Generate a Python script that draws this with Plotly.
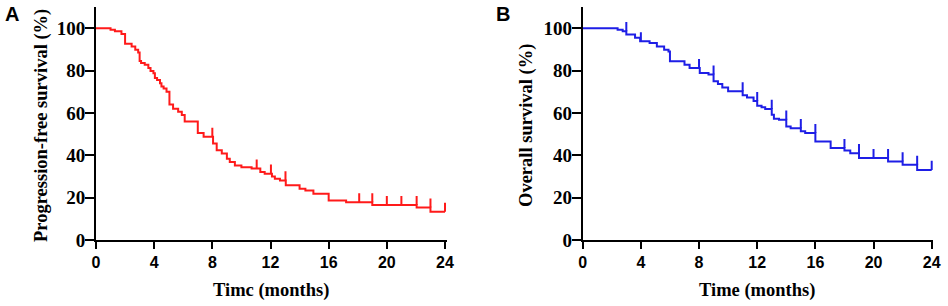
import plotly.graph_objects as go

# ---------------- data ----------------
pfs_time = [0, 1.0, 1.3, 1.75, 2.0, 2.45, 2.7, 2.9, 3.0, 3.1, 3.35, 3.6, 3.75, 3.95, 4.05, 4.2,
            4.4, 4.5, 4.65, 4.85, 5.05, 5.3, 5.65, 5.9, 6.1, 7.0, 7.4, 8.05, 8.3, 8.65, 9.0, 9.2,
            9.55, 10.0, 10.7, 11.3, 11.6, 12.1, 12.3, 12.65, 13.05, 14.0, 14.4, 14.95, 16.0,
            17.2, 19.0, 22.05, 23.0]
pfs_surv = [100, 99.3, 98.5, 97.3, 92.6, 91.4, 89.8, 88.5, 84.5, 83.6, 82.7, 81.2, 79.8, 78.7,
            76.5, 75.5, 74, 72.5, 71.5, 70, 64, 62, 60.5, 59, 56, 50.5, 48.7, 45.5, 42.4, 40.8,
            38.4, 36.8, 35.2, 34.4, 33.7, 32.1, 31.3, 30, 28.9, 28.1, 25.8, 24.2, 23.4, 21.8,
            18.6, 17.8, 16.5, 15.3, 13.3]
pfs_censor = [8.0, 11.05, 12.03, 13.03, 18.1, 19.0, 20.0, 21.0, 22.05, 23.0, 24.0]

os_time = [0, 2.4, 2.75, 3.0, 3.6, 3.95, 4.6, 5.1, 5.6, 5.9, 6.0, 7.0, 7.35, 8.05, 8.65, 9.0,
           9.3, 9.6, 10.0, 11.0, 11.3, 11.75, 12.0, 12.3, 12.55, 13.0, 13.15, 13.5, 14.0, 14.3,
           15.0, 15.3, 16.0, 17.05, 18.0, 18.4, 19.0, 21.0, 22.0, 23.0]
os_surv = [100, 99.3, 98.6, 97, 95.5, 93.8, 93, 91.4, 89.8, 89, 84.4, 82.7, 81.2, 78.9, 78.1,
           75, 73.6, 72, 70.2, 68.3, 67.3, 65.6, 63.4, 62.7, 61.9, 59.1, 57.3, 56.8, 53.6, 52.8,
           51.3, 50.5, 46.5, 43.4, 42.3, 41, 38.7, 37.1, 35.5, 33.1]
os_censor = [3.0, 4.0, 8.0, 9.0, 11.0, 12.0, 13.0, 14.0, 15.0, 16.0, 18.0, 19.0, 20.0, 21.0,
             22.0, 23.0, 24.0]

x_ticks = [0, 4, 8, 12, 16, 20, 24]
y_ticks = [0, 20, 40, 60, 80, 100]
x_end = 24

# ---------------- helpers ----------------
def level_at(times, surv, t):
    val = surv[0]
    for ti, si in zip(times, surv):
        if ti < t:
            val = si
    return val

def censor_segments(times, surv, censor, tick_len=4.3):
    xs, ys = [], []
    for c in censor:
        v = level_at(times, surv, c)
        xs += [c, c, None]
        ys += [v, v + tick_len, None]
    return xs, ys

RED = "#ff1a1a"
BLUE = "#1e1ee6"

fig = go.Figure()

for times, surv, cens, col, xa, ya in [
    (pfs_time, pfs_surv, pfs_censor, RED, "x", "y"),
    (os_time, os_surv, os_censor, BLUE, "x2", "y2"),
]:
    fig.add_trace(go.Scatter(
        x=times + [x_end], y=surv + [surv[-1]], mode="lines",
        line=dict(color=col, width=2, shape="hv"),
        xaxis=xa, yaxis=ya, hoverinfo="skip"))
    cx, cy = censor_segments(times, surv, cens)
    fig.add_trace(go.Scatter(
        x=cx, y=cy, mode="lines", line=dict(color=col, width=2),
        xaxis=xa, yaxis=ya, hoverinfo="skip"))

W, H = 948, 306
px_per_month = (445 - 96) / 24
xr = [0, 24.12]

def xdom(left):
    return [left / W, (left + px_per_month * xr[1]) / W]

ydom = [1 - 240 / H, 1 - 7 / H]

serif = "Times New Roman, Liberation Serif, serif"
sans = "Arial, Liberation Sans, sans-serif"

xaxis_common = dict(
    range=xr, tickvals=x_ticks, ticktext=[str(v) for v in x_ticks],
    showline=True, linecolor="black", linewidth=2, mirror=False,
    ticks="outside", ticklen=7, tickwidth=2, tickcolor="black",
    showgrid=False, zeroline=False, automargin=False,
    tickfont=dict(family=sans, size=16, color="black", weight="bold"),
)
yaxis_common = dict(
    range=[0, 110], tickvals=y_ticks, ticktext=[str(v) for v in y_ticks],
    showline=True, linecolor="black", linewidth=2,
    ticks="outside", ticklen=9, tickwidth=2, tickcolor="black",
    showgrid=False, zeroline=False, automargin=False, domain=ydom,
    ticklabelstandoff=-4,
    tickfont=dict(family=serif, size=19, color="black", weight="bold"),
)

fig.update_layout(
    width=W, height=H, margin=dict(l=0, r=0, t=0, b=0),
    paper_bgcolor="white", plot_bgcolor="white", showlegend=False,
    xaxis=dict(domain=xdom(96), anchor="y", **xaxis_common),
    yaxis=dict(anchor="x", **yaxis_common),
    xaxis2=dict(domain=xdom(582.7), anchor="y2", **xaxis_common),
    yaxis2=dict(anchor="x2", **yaxis_common),
)

title_font = dict(family=serif, size=18.5, color="black", weight="bold")
letter_font = dict(family=sans, size=20, color="black", weight="bold")

annotations = [
    dict(text="Timc (months)", x=270.5 / W, y=1 - 290 / H, font=title_font),
    dict(text="Time (months)", x=757 / W, y=1 - 290 / H, font=title_font),
    dict(text="Progression-free survival (%)", x=41 / W, y=1 - 126 / H, textangle=-90, font=title_font),
    dict(text="Overall survival (%)", x=526 / W, y=1 - 126 / H, textangle=-90, font=title_font),
    dict(text="A", x=3 / W, y=1 - 14 / H, xanchor="left", font=letter_font),
    dict(text="B", x=494 / W, y=1 - 14 / H, xanchor="left", font=letter_font),
]
for a in annotations:
    a.setdefault("xanchor", "center")
    a.update(xref="paper", yref="paper", yanchor="middle", showarrow=False)
fig.update_layout(annotations=annotations)

fig.write_html("out.html", config={"displayModeBar": False},
               post_script="document.body.style.margin='0';document.body.style.overflow='hidden';")
